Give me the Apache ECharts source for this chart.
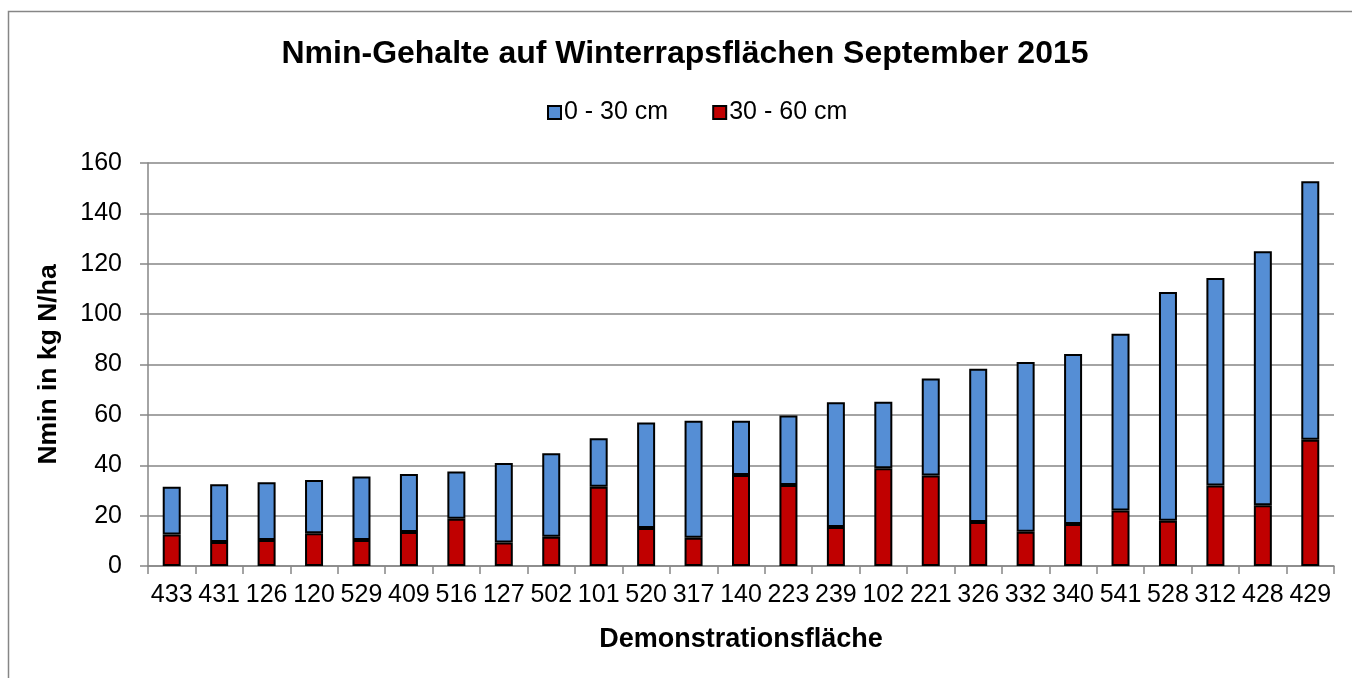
<!DOCTYPE html>
<html>
<head>
<meta charset="utf-8">
<script src="https://cdn.jsdelivr.net/npm/echarts@6/dist/echarts.min.js"></script>
<style>
  html, body { margin: 0; padding: 0; background: #fff; }
  #chart { width: 1352px; height: 678px; }
</style>
</head>
<body>
<div id="chart"></div>
<script>
// Demonstrationsflächen (x axis)
var flaechen = ['433', '431', '126', '120', '529', '409', '516', '127', '502', '101', '520', '317', '140',
  '223', '239', '102', '221', '326', '332', '340', '541', '528', '312', '428', '429'];

// Nmin 30 - 60 cm (unten, rot)
var tief = [12.5, 9.5, 10.3, 13, 10.3, 13.5, 18.8, 9.3, 11.6, 31.5, 15.1, 11.2, 36.1,
  32.2, 15.5, 38.8, 35.9, 17.5, 13.6, 16.7, 22, 18, 32, 24.1, 50.1];

// Nmin 0 - 30 cm (oben, blau)
var oben = [19, 23, 23, 21.1, 25.2, 23, 18.7, 31.6, 33.2, 19.2, 41.9, 46.5, 21.6,
  27.6, 49.5, 26.4, 38.5, 60.8, 67.4, 67.5, 70.2, 90.8, 82.3, 100.9, 102.7];

var yTicks = [0, 20, 40, 60, 80, 100, 120, 140, 160];

var font = 'Liberation Sans, Arial, sans-serif';
var grau = '#868686';

var myChart = echarts.init(document.getElementById('chart'));

myChart.setOption({
  backgroundColor: '#fff',
  animation: false,
  textStyle: { fontFamily: font },
  graphic: [{
    type: 'rect',
    shape: { x: 8.5, y: 11.5, width: 1360, height: 700 },
    style: { fill: 'none', stroke: grau, lineWidth: 1.5 },
    silent: true
  }],
  title: {
    text: 'Nmin-Gehalte auf Winterrapsflächen September 2015',
    left: 680,
    textAlign: 'center',
    top: 33,
    textStyle: { fontFamily: font, fontSize: 32, fontWeight: 'bold', color: '#000' }
  },
  legend: {
    data: ['0 - 30 cm', '30 - 60 cm'],
    left: 547,
    top: 100,
    padding: 0,
    icon: 'rect',
    itemWidth: 13,
    itemHeight: 13,
    itemGap: 44,
    textStyle: { fontFamily: font, fontSize: 25, color: '#000', padding: [0, 0, 0, -2] }
  },
  grid: { left: 148, top: 163, right: 18, bottom: 112, containLabel: false },
  xAxis: {
    type: 'category',
    data: flaechen,
    name: 'Demonstrationsfläche',
    nameLocation: 'middle',
    nameGap: 60,
    nameTextStyle: { fontFamily: font, fontSize: 27, fontWeight: 'bold', color: '#000' },
    axisLine: { lineStyle: { color: grau, width: 1.5 } },
    axisTick: { show: true, length: 8, lineStyle: { color: grau, width: 1.5 } },
    axisLabel: { interval: 0, margin: 17, fontFamily: font, fontSize: 25, color: '#000' }
  },
  yAxis: {
    type: 'value',
    min: yTicks[0],
    max: yTicks[yTicks.length - 1],
    interval: yTicks[1] - yTicks[0],
    name: 'Nmin in kg N/ha',
    nameLocation: 'middle',
    nameGap: 86,
    nameTextStyle: { fontFamily: font, fontSize: 26.5, fontWeight: 'bold', color: '#000' },
    axisLine: { show: true, lineStyle: { color: grau, width: 1.5 } },
    axisTick: { show: true, length: 8, lineStyle: { color: grau, width: 1.5 } },
    axisLabel: { margin: 26, fontFamily: font, fontSize: 25, color: '#000' },
    splitLine: { lineStyle: { color: grau, width: 1.5 } }
  },
  series: [{
    name: '30 - 60 cm',
    type: 'bar',
    stack: 'nmin',
    barWidth: 18,
    data: tief,
    itemStyle: { color: '#C00000', borderColor: '#000', borderWidth: 2 }
  }, {
    name: '0 - 30 cm',
    type: 'bar',
    stack: 'nmin',
    barWidth: 18,
    data: oben,
    itemStyle: { color: '#558ED5', borderColor: '#000', borderWidth: 2 }
  }]
});
</script>
</body>
</html>
